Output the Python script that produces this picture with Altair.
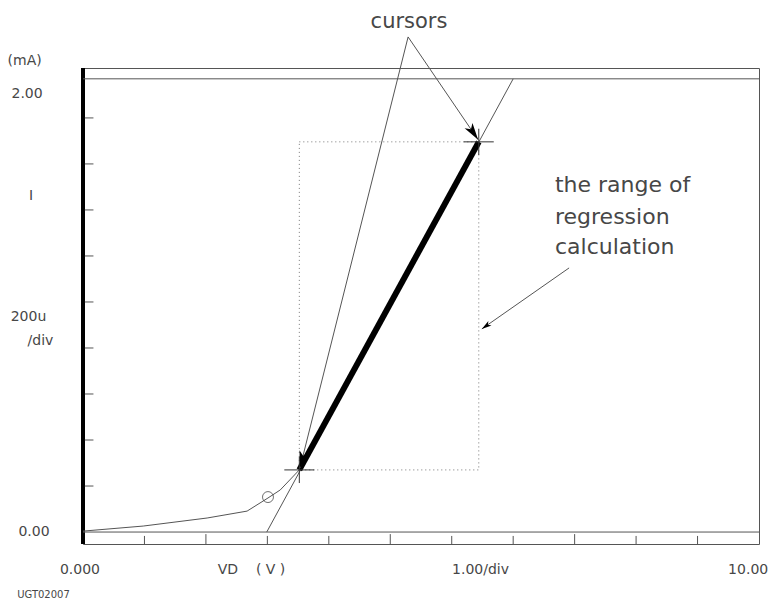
import math
import altair as alt
import pandas as pd

# ---- frame extents (x in divisions, y in mA) ----
X_DOMAIN = [0.0, 11.0]
Y_DOMAIN = [-0.052, 2.017]
W, H = 676, 476
PX_X = W / (X_DOMAIN[1] - X_DOMAIN[0])
PX_Y = H / (Y_DOMAIN[1] - Y_DOMAIN[0])

# ---- measured I-V curve (low part, thin) ----
curve_x = [0.0, 0.98, 2.02, 2.67, 3.01, 3.21, 3.52]
curve_y = [0.004, 0.026, 0.061, 0.091, 0.148, 0.183, 0.27]

# ---- curve inside the regression range (thick) ----
range_x = [3.52, 6.44]
range_y = [0.27, 1.696]

# ---- regression line ----
reg_x = [2.99, 7.00]
reg_y = [0.0, 1.97]

# ---- marker circle ----
marker_x = [3.01]
marker_y = [0.152]

# ---- horizontal full-width lines ----
hline_y = [0.0, 1.97]

# ---- ticks ----
ytick_vals = [0.2, 0.4, 0.6, 0.8, 1.0, 1.2, 1.4, 1.6, 1.8]
xtick_vals = [1, 2, 3, 4, 5, 6, 7, 8, 9, 10]
xtick_long = [2, 5, 8]

# ---- cursor annotation ----
cursor_apex = (5.29, 2.152)
cursor_tips_x = [3.53, 6.43]
cursor_tips_y = [0.278, 1.705]

# ---- range annotation arrow ----
range_arrow_from = (7.91, 1.148)
range_arrow_to = (6.49, 0.883)

# ---- labels ----
NB = "\u00a0"
label_text = ["(mA)", "2.00", "I", "200u", "/div", "0.00",
              "0.000", "VD" + NB * 4 + "(" + NB + "V" + NB + ")", "1.00/div"]
label_x = [-0.95, -0.91, -0.846, -0.887, -0.692, -0.797,
           -0.049, 2.742, 6.469]
label_y = [2.048, 1.904, 1.461, 0.935, 0.830, 0.0,
           -0.165, -0.165, -0.165]
right_label = ["10.00"]
right_label_x = [11.15]
right_label_y = [-0.165]

note_lines = ["the range of", "regression", "calculation"]
note_x = [7.68, 7.68, 7.68]
note_y = [1.478, 1.339, 1.209]

xs = alt.Scale(domain=X_DOMAIN, nice=False, zero=False)
ys = alt.Scale(domain=Y_DOMAIN, nice=False, zero=False)
LINE = "#555555"
TEXT = "#474747"
FONT = "DejaVu Sans"


def X(field="x"):
    return alt.X(field, type="quantitative", scale=xs, axis=None)


def Y(field="y"):
    return alt.Y(field, type="quantitative", scale=ys, axis=None)


def angle_of(x1, y1, x2, y2):
    dx = (x2 - x1) * PX_X
    dy = -(y2 - y1) * PX_Y
    return math.degrees(math.atan2(dx, -dy)) % 360


layers = []

# thick left axis
layers.append(alt.Chart(pd.DataFrame({"x": [0.0], "y": [Y_DOMAIN[0]], "y2": [Y_DOMAIN[1]]}))
              .mark_rule(color="black", strokeWidth=4)
              .encode(x=X(), y=Y(), y2="y2:Q"))

# horizontal lines (zero line and top line)
layers.append(alt.Chart(pd.DataFrame({"y": hline_y, "x": [X_DOMAIN[0]] * 2, "x2": [X_DOMAIN[1]] * 2}))
              .mark_rule(color=LINE, strokeWidth=1)
              .encode(x=X(), x2="x2:Q", y=Y()))

# y ticks
layers.append(alt.Chart(pd.DataFrame({"y": ytick_vals, "x": [0.03] * len(ytick_vals),
                                      "x2": [0.17] * len(ytick_vals)}))
              .mark_rule(color=LINE, strokeWidth=1)
              .encode(x=X(), x2="x2:Q", y=Y()))

# x ticks
xt_top = [(-0.009 if v in xtick_long else -0.017) for v in xtick_vals]
layers.append(alt.Chart(pd.DataFrame({"x": xtick_vals, "y": [Y_DOMAIN[0]] * len(xtick_vals),
                                      "y2": xt_top}))
              .mark_rule(color=LINE, strokeWidth=1)
              .encode(x=X(), y=Y(), y2="y2:Q"))

# dotted regression range box
layers.append(alt.Chart(pd.DataFrame({"x": [range_x[0]], "x2": [range_x[1]],
                                      "y": [range_y[0]], "y2": [range_y[1]]}))
              .mark_rect(filled=False, stroke="#777777", strokeWidth=1, strokeDash=[1, 3])
              .encode(x=X(), x2="x2:Q", y=Y(), y2="y2:Q"))

# regression line
layers.append(alt.Chart(pd.DataFrame({"x": reg_x, "y": reg_y}))
              .mark_line(color=LINE, strokeWidth=1)
              .encode(x=X(), y=Y()))

# thin curve
layers.append(alt.Chart(pd.DataFrame({"x": curve_x, "y": curve_y, "o": list(range(len(curve_x)))}))
              .mark_line(color=LINE, strokeWidth=1)
              .encode(x=X(), y=Y(), order="o:Q"))

# thick curve in range
layers.append(alt.Chart(pd.DataFrame({"x": range_x, "y": range_y}))
              .mark_line(color="black", strokeWidth=6)
              .encode(x=X(), y=Y()))

# circle marker
layers.append(alt.Chart(pd.DataFrame({"x": marker_x, "y": marker_y}))
              .mark_point(shape="circle", size=120, color="#333333", strokeWidth=1, filled=False)
              .encode(x=X(), y=Y()))

# cursor crosshairs
hw, hh = 0.244, 0.057
cross_h = pd.DataFrame({"x": [v - hw for v in range_x], "x2": [v + hw for v in range_x], "y": range_y})
cross_v = pd.DataFrame({"x": range_x, "y": [v - hh for v in range_y], "y2": [v + hh for v in range_y]})
layers.append(alt.Chart(cross_h).mark_rule(color="#333333", strokeWidth=1)
              .encode(x=X(), x2="x2:Q", y=Y()))
layers.append(alt.Chart(cross_v).mark_rule(color="#333333", strokeWidth=1)
              .encode(x=X(), y=Y(), y2="y2:Q"))

# annotation arrow lines
seg = pd.DataFrame({
    "x": [cursor_apex[0], cursor_apex[0], range_arrow_from[0]],
    "y": [cursor_apex[1], cursor_apex[1], range_arrow_from[1]],
    "x2": [cursor_tips_x[0], cursor_tips_x[1], range_arrow_to[0]],
    "y2": [cursor_tips_y[0], cursor_tips_y[1], range_arrow_to[1]],
})
layers.append(alt.Chart(seg).mark_rule(color=LINE, strokeWidth=1)
              .encode(x=X(), y=Y(), x2="x2:Q", y2="y2:Q"))

# arrowheads
ARROW = "M0,0L0.5,1.8L0,1.35L-0.5,1.8Z"
heads = pd.DataFrame({
    "x": [cursor_tips_x[0], cursor_tips_x[1]],
    "y": [cursor_tips_y[0], cursor_tips_y[1]],
    "a": [angle_of(cursor_apex[0], cursor_apex[1], cursor_tips_x[i], cursor_tips_y[i]) for i in range(2)],
})
layers.append(alt.Chart(heads).mark_point(shape=ARROW, size=360, filled=True, color="black", opacity=1)
              .encode(x=X(), y=Y(), angle=alt.Angle("a:Q", scale=None)))
head2 = pd.DataFrame({"x": [range_arrow_to[0]], "y": [range_arrow_to[1]],
                      "a": [angle_of(*range_arrow_from, *range_arrow_to)]})
layers.append(alt.Chart(head2).mark_point(shape=ARROW, size=120, filled=True, color="black", opacity=1)
              .encode(x=X(), y=Y(), angle=alt.Angle("a:Q", scale=None)))

# axis-style labels
layers.append(alt.Chart(pd.DataFrame({"x": label_x, "y": label_y, "t": label_text}))
              .mark_text(font=FONT, fontSize=14, color=TEXT, align="center", baseline="middle")
              .encode(x=X(), y=Y(), text="t:N"))
layers.append(alt.Chart(pd.DataFrame({"x": right_label_x, "y": right_label_y, "t": right_label}))
              .mark_text(font=FONT, fontSize=14, color=TEXT, align="right", baseline="middle")
              .encode(x=X(), y=Y(), text="t:N"))

# cursors label
layers.append(alt.Chart(pd.DataFrame({"x": [5.305], "y": [2.217], "t": ["cursors"]}))
              .mark_text(font=FONT, fontSize=21, color=TEXT, align="center", baseline="middle")
              .encode(x=X(), y=Y(), text="t:N"))

# range note
layers.append(alt.Chart(pd.DataFrame({"x": note_x, "y": note_y, "t": note_lines}))
              .mark_text(font=FONT, fontSize=22, color=TEXT, align="left", baseline="alphabetic")
              .encode(x=X(), y=Y(), text="t:N"))

# figure id
layers.append(alt.Chart(pd.DataFrame({"x": [-0.643], "y": [-0.274], "t": ["UGT02007"]}))
              .mark_text(font=FONT, fontSize=10, color=TEXT, align="center", baseline="middle")
              .encode(x=X(), y=Y(), text="t:N"))

chart = (alt.layer(*layers)
         .properties(width=W, height=H,
                     autosize=alt.AutoSizeParams(type="none"),
                     padding={"left": 75, "top": 60, "right": 11, "bottom": 56})
         .configure_view(stroke=LINE, strokeWidth=1))

chart.save("out.html", embed_options={"renderer": "svg", "actions": False})
